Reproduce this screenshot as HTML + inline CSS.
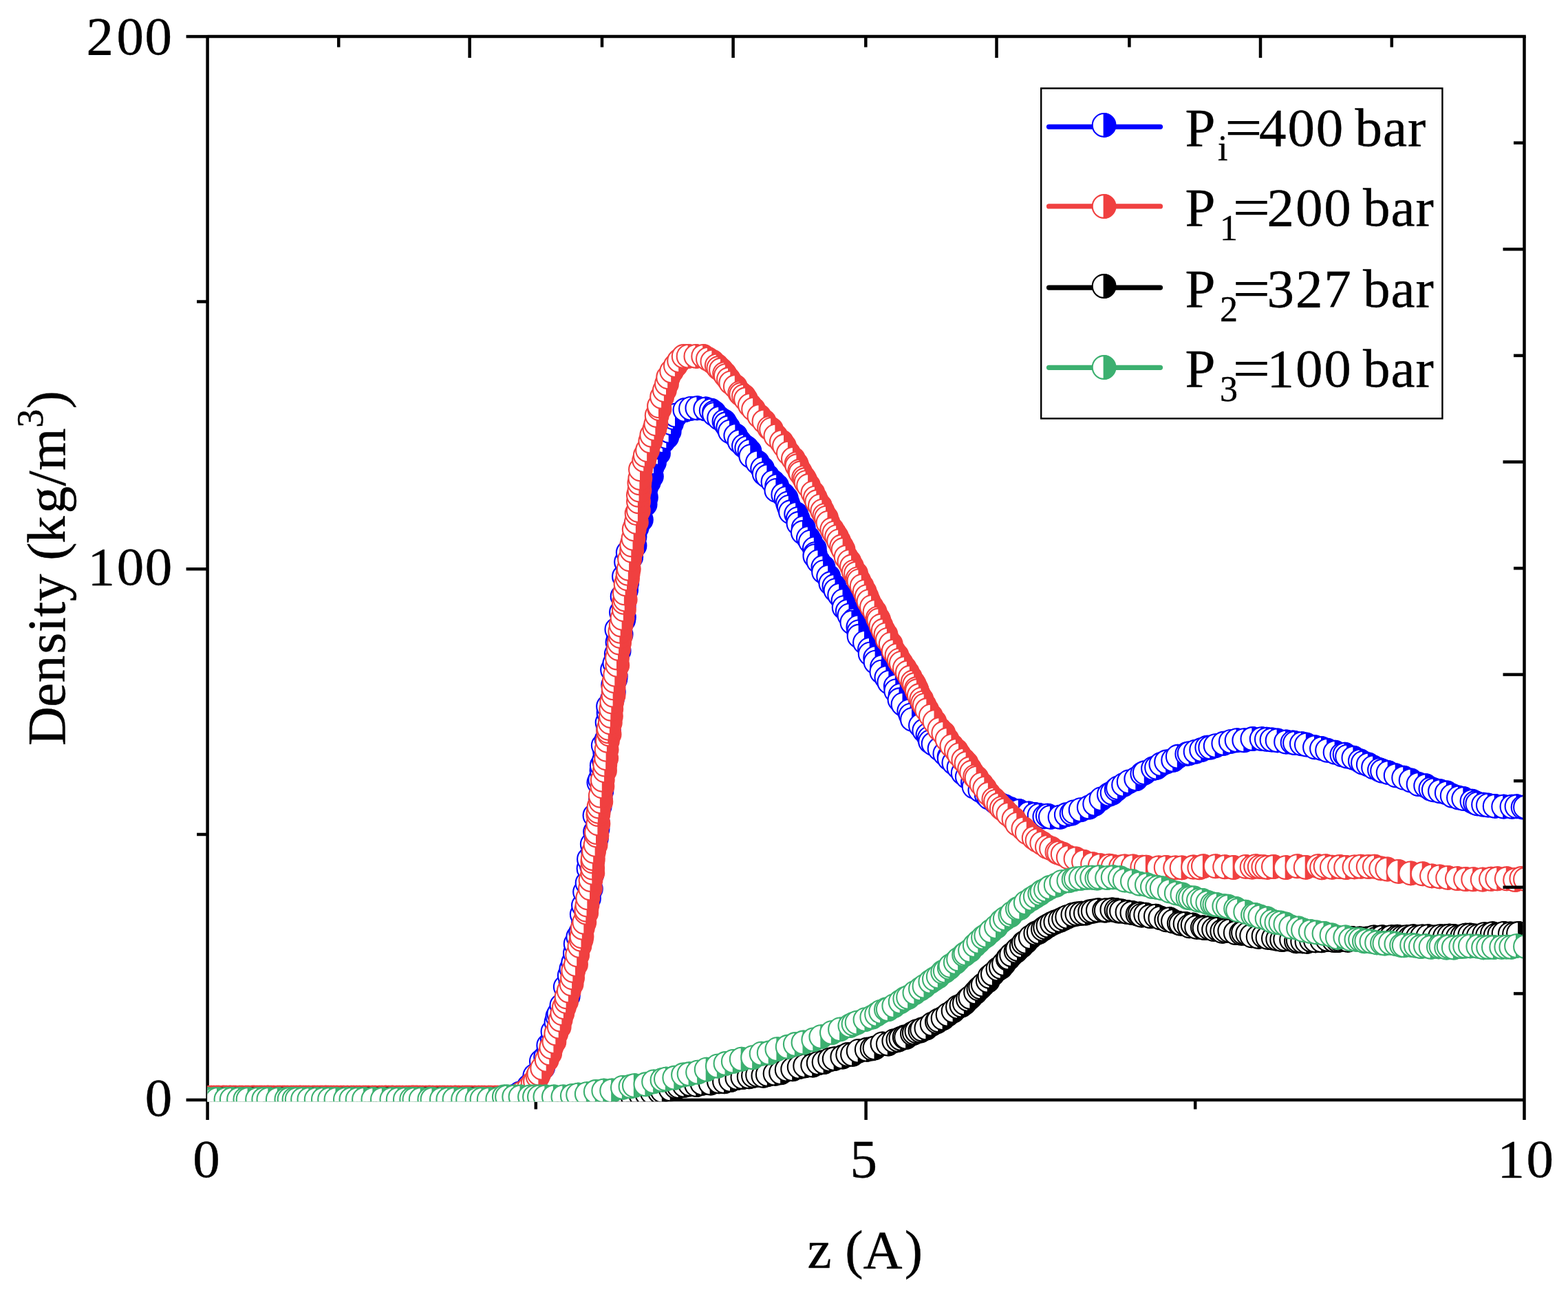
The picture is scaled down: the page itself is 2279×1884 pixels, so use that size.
<!DOCTYPE html>
<html lang="en"><head><meta charset="utf-8"><title>Density profile</title>
<style>html,body{margin:0;padding:0;background:#fff}body{width:2279px;height:1884px;overflow:hidden}svg{display:block}text{font-family:"Liberation Serif","DejaVu Serif",serif;fill:#000;stroke:#000;stroke-width:0.4px;stroke-linejoin:round}</style></head><body>
<svg width="2279" height="1884" viewBox="0 0 2279 1884">
<rect width="2279" height="1884" fill="#fff"/>
<defs>
<marker id="m-blue" markerUnits="userSpaceOnUse" markerWidth="40" markerHeight="40" refX="20" refY="20" viewBox="0 0 40 40" orient="0" overflow="visible"><circle cx="20" cy="20" r="16.9" fill="#fff" stroke="#0000ff" stroke-width="2.1"/><path d="M19,2 A18,18 0 1 1 19,38 Z" fill="#0000ff"/></marker>
<marker id="m-red" markerUnits="userSpaceOnUse" markerWidth="40" markerHeight="40" refX="20" refY="20" viewBox="0 0 40 40" orient="0" overflow="visible"><circle cx="20" cy="20" r="16.9" fill="#fff" stroke="#f04040" stroke-width="2.1"/><path d="M19,2 A18,18 0 1 1 19,38 Z" fill="#f04040"/></marker>
<marker id="m-black" markerUnits="userSpaceOnUse" markerWidth="40" markerHeight="40" refX="20" refY="20" viewBox="0 0 40 40" orient="0" overflow="visible"><circle cx="20" cy="20" r="16.9" fill="#fff" stroke="#000000" stroke-width="2.1"/><path d="M19,2 A18,18 0 1 1 19,38 Z" fill="#000000"/></marker>
<marker id="m-green" markerUnits="userSpaceOnUse" markerWidth="40" markerHeight="40" refX="20" refY="20" viewBox="0 0 40 40" orient="0" overflow="visible"><circle cx="20" cy="20" r="16.9" fill="#fff" stroke="#3cb070" stroke-width="2.1"/><path d="M19,2 A18,18 0 1 1 19,38 Z" fill="#3cb070"/></marker>
<clipPath id="plot"><rect x="301.6" y="53.1" width="1911.7" height="1548.2"/></clipPath>
</defs>
<g stroke="#000" stroke-width="4.5" fill="none" stroke-linecap="butt">
<line x1="301.6" y1="50.9" x2="301.6" y2="1628"/>
<line x1="301.6" y1="1599" x2="2215.5" y2="1599"/>
<line x1="270.6" y1="53.1" x2="301.6" y2="53.1"/>
<line x1="286.1" y1="438.5" x2="301.6" y2="438.5"/>
<line x1="270.6" y1="827.2" x2="301.6" y2="827.2"/>
<line x1="286.1" y1="1213" x2="301.6" y2="1213"/>
<line x1="270.6" y1="1599" x2="301.6" y2="1599"/>
<line x1="778.8" y1="1599" x2="778.8" y2="1612.5"/>
<line x1="1258.6" y1="1599" x2="1258.6" y2="1628"/>
<line x1="1737.2" y1="1599" x2="1737.2" y2="1612.5"/>
</g>
<g clip-path="url(#plot)">
<polyline points="301.5,1597 308.4,1597 315.1,1597 327.3,1597 336.3,1597 345.3,1597 354.2,1597 364.1,1597 368.2,1597 377.2,1597 383.9,1597 392.9,1597 406,1597 415,1597 419,1597 428,1597 434.7,1597 446.9,1597 459.9,1597 473,1597 482,1597 494.1,1597 502.3,1597 509.1,1597 518.1,1597 527.1,1597 537,1597 550,1597 558,1597 570.3,1597 577,1597 585.1,1597 597.3,1597 604,1597 613.9,1597 622.9,1597 631.9,1597 644.9,1597 657.1,1597 669.2,1597 678.2,1597 691.3,1597 704.3,1597 711.1,1597 717.9,1597 726,1597 734.9,1596.8 746.8,1593.9 755.6,1589.5 765.7,1584.7 769.1,1578.7 778.4,1570.6 777.3,1563.7 789.1,1552.1 786.9,1542.7 793.2,1536.4 797.8,1530.3 797.3,1519.7 802.8,1512.5 803.5,1499.8 811.4,1490.4 808.5,1486 810.4,1477.7 812.4,1473.8 816.4,1461.6 825.7,1448.2 826,1443.7 821.8,1434.6 829.5,1427.8 827.8,1417.9 830.4,1408.4 833.2,1399.5 835.9,1385.8 836.7,1372 840.3,1362 844.2,1355.1 847.9,1342.5 845.8,1329.1 848,1316.3 855.9,1306.1 850.1,1296.6 858.8,1292.2 853.6,1283.7 860.4,1271 855.5,1262.7 859.8,1258.3 856,1248.9 862.2,1238.5 862.8,1234.2 860.8,1227.2 866.9,1218.8 865.1,1209.3 868.5,1205.2 868.8,1195.5 864.5,1185.4 871.6,1172.5 872.8,1163.1 874.3,1150.3 870.4,1137.6 872.2,1133.4 876,1124 874.5,1119.8 874.8,1112.7 877.9,1105.7 879.2,1093 876.8,1083.6 881.7,1074.9 885.1,1064.5 884.2,1060.5 882.6,1050.2 884.6,1036.3 884.1,1026.9 889.8,1016.7 891.8,1006.1 891.2,995.8 894.3,987.4 894.8,983.2 890.1,973.7 893.4,964.3 895.8,950.6 899.6,946.3 897.5,933.6 899.1,926.4 902.6,922.2 896.4,915 906.2,901.4 906.9,897.1 903,890 906.7,880.6 904.6,867 910.1,857.8 911.2,847.3 907,838 912.7,824.2 910.1,817 917.2,810.1 912.8,803.3 922.5,793.2 919.5,789.4 922.5,780.3 925.7,766.8 924.3,762.6 931.9,755.6 928.1,746.2 937.6,733.2 938.9,722.9 938.9,709.6 942.9,700.8 946.9,692.6 945.3,688.7 947.7,679.2 951,672.2 957,658.9 955.7,649.8 963.9,641.2 969.3,635.3 972.7,626.9 976,615.4 979.1,607.2 982,603.7 995.5,596 1004,593.9 1013.4,593.2 1025.3,594.5 1033.7,596.7 1037.8,599.6 1038,602.1 1045.2,607.8 1052.5,612.4 1054.8,616.3 1058.3,621.5 1061,627.4 1069.3,633.1 1074.7,641.8 1081,648.1 1085.3,651.2 1089.5,655.9 1091.3,663.1 1101,672.3 1108.2,681.1 1110.7,688.6 1115.4,692.3 1123.5,700.4 1129.2,706.3 1128.4,712.9 1138.3,719 1142.7,724.1 1144.9,731.7 1146.8,736.9 1149,744.3 1157.2,747.2 1159.7,754.1 1160.5,761 1167.7,767.1 1166.9,774 1174.9,782.1 1178,787.6 1183.8,797.4 1184.7,805.2 1184.4,808.2 1189.5,816.1 1196.4,824.3 1197.1,831.4 1204.2,838.3 1207.4,848 1212.4,852 1214.5,858.1 1220.2,865 1225.5,873.1 1226.7,883.1 1231.8,888.5 1234.5,894.4 1241.3,901.4 1238.4,904.7 1247.4,911.4 1248.2,918.4 1248.6,924.8 1257,933.9 1264,943.8 1264.7,950.6 1272.2,956.4 1272.6,962.6 1282.1,969.2 1281.4,976.7 1288.4,985 1292.4,991.7 1301.8,997.5 1302.3,1004.4 1308.6,1010.6 1307.5,1017.3 1312.5,1023.9 1321.3,1033.6 1323.6,1039.6 1326,1045.9 1338,1054.7 1343.3,1062 1348.5,1068.1 1350.8,1073.2 1352.1,1078.1 1356.6,1081.3 1365.6,1088.5 1373.4,1095.7 1379.6,1100.4 1379.8,1102.7 1386.4,1109 1393.6,1115.8 1399.7,1123.7 1405.8,1129.2 1414,1137.2 1415.6,1143.6 1424.4,1148.7 1433.8,1155.7 1437.4,1159.6 1446.5,1165.6 1451.3,1168.2 1460.1,1172.2 1468.2,1175.9 1480.8,1179 1495.1,1182.4 1504,1184 1510.7,1185.1 1518.4,1187.2 1522.8,1185.7 1526.9,1187.8 1540.6,1187.7 1549.8,1184.3 1557.6,1182.6 1560.7,1180.4 1570.7,1177.2 1582.8,1173.5 1591.2,1168.8 1600.5,1161.4 1611.9,1154.9 1616.6,1152.8 1622.7,1147.5 1625,1145.4 1633.1,1140.9 1640.7,1136.4 1651.3,1132.3 1660.3,1124.9 1663.8,1123.3 1676,1117.1 1681.1,1115.8 1687.4,1111 1695.1,1107.5 1705.2,1104.9 1711.8,1099.8 1725.3,1095.9 1728.6,1095.1 1737.6,1092.7 1746.2,1090 1754.3,1086.8 1759.2,1086.5 1766.7,1084.1 1778.3,1080.8 1788.8,1077.9 1797.6,1076.2 1808.3,1076.2 1820.4,1074 1833.7,1074.1 1840.9,1074.8 1848.5,1075.5 1856.6,1076.4 1869.1,1078.5 1878.6,1079.4 1882,1080.1 1891.9,1081.2 1898.9,1082.6 1911,1086.3 1921,1088.1 1929.1,1090.8 1940.6,1093.8 1950.4,1097.3 1954.6,1096.8 1958.1,1099.6 1967.4,1101.8 1976.9,1106.3 1981,1108.9 1988.8,1111.5 1996.1,1115.4 2005,1119.1 2009.1,1120.8 2017.7,1123.1 2028.7,1127.3 2040.2,1130.8 2050.6,1134.5 2061.6,1140 2072.2,1142.3 2079.4,1146.8 2083.8,1148.3 2093,1150.3 2102.8,1152.5 2110.7,1156.7 2120,1159.6 2127.3,1161.1 2139.5,1164.8 2144.1,1167 2147.3,1168.4 2156.1,1169.8 2162.9,1170.6 2172.7,1171.9 2185.2,1172.6 2197.5,1172.7 2204.5,1172.3 2213.6,1173.6 2217,1173.4" fill="none" stroke="#0000ff" stroke-width="6" stroke-linejoin="round" marker-start="url(#m-blue)" marker-mid="url(#m-blue)" marker-end="url(#m-blue)"/>
<polyline points="301.5,1595.8 306.9,1595.8 310.6,1595.8 315,1595.8 318,1595.8 323.7,1595.8 325.6,1595.8 329.1,1595.8 333.6,1595.8 335.3,1595.8 339.3,1595.8 342.3,1595.8 348.2,1595.8 351.8,1595.8 357.2,1595.8 360.7,1595.8 366.1,1595.8 368.1,1595.8 369.8,1595.8 373.5,1595.8 377.4,1595.8 380.4,1595.8 384.4,1595.8 388.4,1595.8 390.1,1595.8 393.8,1595.8 397.8,1595.8 403.6,1595.8 407.1,1595.8 410.8,1595.8 413.8,1595.8 417.8,1595.8 423.2,1595.8 426.8,1595.8 430.8,1595.8 435.2,1595.8 437,1595.8 441,1595.8 444.6,1595.8 448.6,1595.8 454.5,1595.8 457.3,1595.8 461.4,1595.8 465.4,1595.8 468.4,1595.8 472.4,1595.8 474.1,1595.8 477.2,1595.8 481.1,1595.8 485.1,1595.8 489.6,1595.8 495.4,1595.8 499.4,1595.8 505.1,1595.8 510.5,1595.8 514.2,1595.8 518.1,1595.8 522.6,1595.8 528,1595.8 531.6,1595.8 535.6,1595.8 541.3,1595.8 545.3,1595.8 551.2,1595.8 555.2,1595.8 559.6,1595.8 561.3,1595.8 565,1595.8 569.4,1595.8 571.2,1595.8 576.6,1595.8 580.6,1595.8 585,1595.8 590.4,1595.8 594.4,1595.8 598,1595.8 599.8,1595.8 601.5,1595.8 604.5,1595.8 606.5,1595.8 610.4,1595.8 614.4,1595.8 618.8,1595.8 623.1,1595.8 625,1595.8 629,1595.8 634.7,1595.8 638.9,1595.8 643.1,1595.8 646.2,1595.8 650.6,1595.8 655.1,1595.8 660.8,1595.8 662.5,1595.8 666.7,1595.8 672.1,1595.8 676,1595.8 679,1595.8 682.1,1595.8 685.6,1595.8 690,1595.8 695.7,1595.8 700.2,1595.8 704.1,1595.8 710,1595.8 713.5,1595.8 719.4,1595.8 723.4,1595.8 727.3,1595.8 733.2,1595.8 738.6,1595.7 745.6,1594.9 758.4,1589.4 768.6,1582.2 774.6,1574.9 778,1571.9 781.6,1564.8 783.4,1560.7 788.2,1552.9 794.7,1541 799.2,1531.5 801.3,1522.4 805.4,1514.3 808.3,1502.5 812.7,1492.7 814.7,1482.6 817.3,1473.2 819.9,1464.3 823.1,1456 823.6,1449.2 826.8,1440.5 830.6,1430.6 832.1,1421.4 833.3,1411 837,1402.1 839.2,1388.3 842.4,1375 844.7,1365.9 845.5,1361.4 846.8,1348.9 849.3,1340.7 852.2,1326.9 852.3,1322.7 853.5,1315.6 854.3,1305.4 858,1291.6 858.5,1279.1 861.3,1268.9 861.2,1261.6 861.4,1252.2 861.8,1248 863.1,1237.8 865.6,1228.1 867.4,1214.6 867,1210.1 869.4,1197.4 869.3,1184 869.8,1179.8 870.6,1172.5 873.3,1165.4 872.8,1156.8 875.4,1143.3 875.8,1133.8 879,1120.3 879.3,1111.6 881.2,1102.3 881.6,1089.8 882.9,1076.9 885.6,1067.5 884.2,1063.3 884.7,1058.9 886.8,1050.4 887.9,1041 888.3,1030.7 889.3,1020.3 891.6,1010.7 891.6,1000.3 892.8,990.1 894.3,980.8 897.3,966.9 897,956.5 899,943 900.1,934.5 901.7,925 901.3,917.9 902.7,908.5 904.6,898.8 906.9,886.2 906.9,875.9 908.7,871.6 907.9,862.3 909.6,849.3 912,841.2 912.7,833.8 913.8,826.9 915.1,813.3 918.2,800.5 918.3,792.2 920.5,782.9 921.7,769.3 924.9,759 925.6,746.2 927.9,742.1 928,729.2 927.9,719.7 929.5,712.6 929.4,702.2 930.4,695.1 931,682.4 936.2,669.1 937.8,661.9 941.1,654.4 945.3,641.6 947.3,632.7 951.5,623.3 953.4,616.3 954.7,604 958.5,594.4 958,590.3 962.1,577 965.9,567.3 969,558 971.2,548.4 976.2,539.6 981.9,531.4 987.1,524.4 993.7,518 1000.6,517.9 1011.4,517.9 1022.2,518 1028.9,521.9 1035.4,525.7 1041.8,531.5 1044.4,535 1048,537.5 1053.1,543.3 1054.8,546.1 1059,551.3 1062.3,556.4 1068.8,562 1075.3,571.2 1077.2,573.3 1081,575.8 1084,580.3 1089.9,589.1 1095.1,594.9 1103.5,605 1110.5,612.5 1118.1,622.2 1121.1,624.1 1127.4,633.7 1135.9,642.3 1140,648.3 1145.9,658.6 1152.9,666.9 1157.5,674.2 1158.4,677.3 1162.2,684.8 1163.6,687.5 1168.2,694.1 1170,697.3 1171.6,701.2 1175.1,706 1181.4,716.4 1184.9,723.6 1187.3,729.3 1191.9,735.4 1195.3,742.7 1198.5,749.2 1201,752.6 1203.5,759.9 1209.3,769.5 1212.5,774.7 1216.1,780.1 1219.1,786.4 1223.2,794.3 1225.6,799 1229.7,809.8 1234.4,816.2 1238,823.3 1240.8,831.1 1244.1,833.8 1246.6,841.4 1248.4,844.4 1252.7,851.9 1256.7,859.9 1259.7,867.2 1262.5,874.2 1267,882.2 1271.6,889.2 1275.8,898.5 1277.3,901.3 1280.5,909.5 1283.7,916.5 1287.5,922.4 1289.9,929.9 1294.7,936.1 1298.7,946.5 1303.5,952.7 1306.8,959.7 1309.8,963.9 1314.9,971.3 1318.8,977.5 1322.8,984.5 1326.7,991.5 1329.1,995.3 1331.9,1001.3 1332.9,1004.3 1335.8,1011 1339.3,1016.4 1341.2,1021.7 1343.7,1025.2 1347.3,1032 1352.9,1040.6 1358.5,1049.2 1365.4,1060 1371.3,1065.8 1376.6,1075 1383.4,1084.1 1389.9,1091 1394,1097.1 1400.3,1104.8 1404.6,1109.5 1409.2,1117.3 1412.2,1122.5 1417.2,1128.7 1419.6,1130.8 1426.6,1139.9 1431.3,1145.9 1436.9,1154 1444.4,1161.7 1447.1,1164.9 1451.5,1169.8 1455.8,1174.9 1459.6,1177.5 1465.5,1183.8 1473.5,1190.8 1478.3,1197.9 1487.4,1204.7 1492.8,1210.4 1502.7,1218.1 1507.6,1221.6 1514.3,1225.6 1521.9,1231.1 1528,1233.5 1536.4,1238.8 1539.1,1239.8 1544.7,1241.7 1552.8,1246.2 1563.5,1248.4 1575,1252.7 1588.1,1256.2 1598.9,1258.2 1612.3,1258.7 1617.8,1259.7 1628.9,1260.5 1634.5,1259.4 1646.7,1259.4 1660.3,1260.8 1665.8,1260.7 1683.8,1261.4 1694.7,1260.9 1708.2,1261.4 1717.6,1261.4 1734.1,1260.5 1743.3,1261.2 1748.9,1259.3 1766.7,1259.2 1780.2,1260.2 1792.6,1261 1810.4,1259.9 1819.6,1260.6 1825.1,1259.2 1830.7,1260.1 1836.3,1260.2 1841.7,1260.9 1850.9,1260 1868.7,1261.1 1885.5,1259.2 1897.7,1260.9 1915.5,1259.1 1921.1,1261.3 1926.6,1259.2 1935.9,1260.7 1947,1260 1956.2,1261 1968.5,1260.4 1977.7,1259.7 1988.7,1260 1997.9,1259.7 2007.2,1262.4 2016.2,1263.5 2032.4,1266.9 2050.3,1269.4 2067.7,1270.3 2081,1273.4 2092.3,1274.4 2104.2,1275.9 2117.9,1277.1 2130.1,1278 2141.2,1278.2 2154.7,1278.6 2167,1277.8 2176.2,1277.3 2189.8,1277.3 2202.1,1279 2211.3,1277 2217,1278" fill="none" stroke="#f04040" stroke-width="6" stroke-linejoin="round" marker-start="url(#m-red)" marker-mid="url(#m-red)" marker-end="url(#m-red)"/>
<polyline points="301.5,1598.4 314.6,1598.4 323.6,1598.4 332.6,1598.4 341.6,1598.4 353.7,1598.4 366.8,1598.4 374.9,1598.4 383,1598.4 392,1598.4 401,1598.4 409.1,1598.4 417.2,1598.4 430.3,1598.4 442.4,1598.4 454.5,1598.4 463.5,1598.4 472.6,1598.4 479.3,1598.4 489.2,1598.4 498.2,1598.4 507.2,1598.4 514,1598.4 523,1598.4 527,1598.4 531,1598.4 535.1,1598.4 547.2,1598.4 555.4,1598.4 559.4,1598.4 563.5,1598.4 576.5,1598.4 588.7,1598.4 595.4,1598.4 607.6,1598.4 616.6,1598.4 620.6,1598.4 627.4,1598.4 636.4,1598.4 646.2,1598.4 655.2,1598.4 662,1598.4 671,1598.4 683.1,1598.4 687.2,1598.4 697.1,1598.4 710.2,1598.4 719.1,1598.4 727.2,1598.4 734,1598.4 747.1,1598.4 756.9,1598.4 766,1598.4 770,1598.4 776.8,1598.4 785.7,1598.4 793.8,1598.4 802,1598.4 808.7,1598.4 815.4,1598.4 827.6,1598.4 836.6,1598.4 848.8,1598.4 858.7,1598.4 870.8,1598.4 880.7,1598.4 888.8,1598.1 896.9,1597.4 904.9,1596.4 911.1,1595.4 919.4,1593.9 931.4,1591.5 940.6,1590.4 948,1588.4 958.8,1587.2 962.8,1585.7 974.7,1583.6 982.7,1580 986.7,1579.4 994.7,1577.8 1003.2,1576.4 1012.2,1577.1 1020.5,1574.9 1032.6,1574.6 1044.9,1572.3 1053,1572.2 1062,1570 1071.4,1567.1 1079.4,1566 1088.7,1565.3 1095,1563.8 1101.1,1562.8 1109.4,1563.7 1115.8,1562 1126.6,1560.7 1135.1,1559.2 1143.7,1554.9 1152.2,1554.2 1161.7,1551.1 1170.2,1549.4 1181.2,1548.5 1189.7,1545.3 1197.6,1544 1206.2,1540.4 1212.7,1539.1 1224.3,1536.5 1232.2,1533 1239,1532.7 1247.7,1527.9 1259.8,1525.8 1267.6,1524.4 1271.5,1523.4 1282.4,1517.4 1290.8,1517.6 1299.3,1513.2 1305.4,1511.8 1309.4,1509.8 1314.7,1507.5 1317.1,1507.9 1325.9,1502.6 1328.8,1501.4 1332.4,1499.2 1337.5,1498.6 1340.2,1496.5 1346.4,1494.5 1354.6,1488.8 1361.9,1485.2 1364.2,1483.3 1370.6,1480.3 1377.6,1474.9 1385.6,1469.6 1392,1463.9 1397.5,1461.6 1401.9,1458.4 1407,1452.8 1410.4,1449.9 1418.1,1442.5 1422.4,1437.6 1425.2,1435.2 1428.8,1431.6 1435.8,1425.7 1438.5,1419.8 1442.9,1416.1 1450.5,1408.7 1454.9,1406 1459.1,1401 1464.8,1393.8 1466.2,1392.5 1470.1,1388 1476.6,1382.8 1479,1380 1484.8,1375.4 1487.8,1370.9 1491.3,1369 1497.8,1362.2 1505.3,1356.7 1509.8,1355 1515.9,1350.8 1519.2,1348.3 1523.5,1345.7 1529.1,1342.5 1534.3,1340.3 1540.9,1337.8 1546.1,1335.2 1551.2,1332.9 1559.4,1329.7 1565.4,1328.5 1571.9,1327.8 1577.9,1327.6 1584.2,1325.2 1588.8,1324.5 1595.9,1323.3 1605,1323.6 1607.8,1323.4 1616.3,1322.5 1622.5,1323.1 1625.5,1324.5 1630,1324.5 1638.5,1326 1645.4,1327 1653.6,1328.9 1656.4,1328.5 1659,1330.6 1665.2,1329.7 1671.6,1332 1679.9,1331.7 1686.4,1334.4 1695.3,1337.2 1699.8,1336.1 1705,1339.2 1713.8,1342.1 1716.5,1342.9 1722.6,1342.9 1728.8,1346.2 1733.7,1344.6 1739.2,1347.9 1747.9,1348.2 1750.6,1349 1757.7,1349 1764.1,1351.1 1770.1,1350.7 1776.3,1353.8 1781.1,1352.9 1787.3,1353.1 1795.7,1356 1804.2,1356.8 1807,1355.8 1813.3,1357.4 1819.2,1360.3 1828.7,1361.8 1836.6,1360.8 1842.5,1362.9 1850.9,1363.9 1857.2,1365.1 1863.2,1366 1868.2,1365.2 1877.1,1365.9 1884,1368.3 1886.8,1367.3 1893.2,1368.4 1899.5,1368.9 1905.8,1366.7 1912,1367.4 1921.2,1367.2 1929.6,1365.9 1938.9,1367 1944.5,1367 1947.4,1365.9 1953,1365.2 1958.8,1366.7 1964.9,1364 1970.6,1365.4 1976.2,1364.5 1985.5,1364.6 1988.2,1364.9 1993.9,1363.5 1996.7,1362.4 1999.6,1364.9 2008.7,1362.3 2015.1,1364.6 2022,1362.1 2028.2,1364.2 2031.1,1361.8 2033.8,1362.7 2038.6,1362.8 2044.2,1362.1 2049.1,1363.4 2053.8,1361.3 2060.7,1362.3 2067,1361.4 2075.4,1361.2 2084.5,1362.4 2093.1,1361.2 2100.1,1361.3 2106.3,1360.6 2112.6,1361 2118.9,1362.2 2125.3,1361.2 2129.9,1359.6 2136.3,1359.5 2142.6,1360.4 2148.8,1360.6 2157.3,1358.2 2162.1,1359.9 2169,1357.3 2173.7,1359.6 2179.4,1358.5 2185.6,1356.9 2194.8,1357.5 2201.1,1357.8 2207,1357" fill="none" stroke="#000000" stroke-width="6" stroke-linejoin="round" marker-start="url(#m-black)" marker-mid="url(#m-black)" marker-end="url(#m-black)"/>
<polyline points="301.5,1598 311.7,1598 316,1598 328.5,1598 336.8,1598 347.1,1598 356.4,1598 360.6,1598 374.1,1598 383.3,1598 390.4,1598 403.8,1598 416.4,1598 420.6,1598 427.5,1598 431.7,1598 440.1,1598 449.4,1598 459.7,1598 469.9,1598 479.1,1598 488.5,1598 501.9,1598 510.4,1598 519.6,1598 529,1598 542.4,1598 555.9,1598 569.4,1598 578.7,1598 588.9,1598 598.2,1598 602.4,1598 611.7,1598 624.3,1598 628.5,1598 641.9,1598 651.3,1598 660.5,1598 673.1,1598 680.1,1598 693.5,1598 700.5,1598 710.7,1598 723.3,1597.8 732.8,1594.5 737,1594.5 747.2,1594.5 756.5,1594.5 770,1594.5 777,1594.5 783.9,1594.5 792.4,1594.5 804.9,1594.5 818.4,1594.4 831.8,1593 840.1,1591.6 852.8,1590.2 865.8,1587 877.3,1585.6 889.2,1585.5 904.9,1580.9 916.5,1579.4 921.9,1578.1 938.4,1576.3 950.1,1572.4 962.5,1569.9 967.9,1568.6 980.3,1566.8 993,1562.5 1001.6,1561.3 1014.1,1558.7 1026.7,1554.7 1042.9,1549.7 1054.5,1546 1065.8,1542.9 1077.7,1539.7 1094.1,1537.2 1106.6,1531.7 1117.7,1530.5 1129.4,1525.2 1144.7,1521.8 1155.8,1518 1167.5,1515.5 1182.3,1511.4 1193.3,1507.1 1208.9,1501.1 1221,1496.4 1235.4,1491.1 1240.5,1488.6 1245.6,1486.6 1257.5,1482.1 1267.3,1478.7 1274.1,1474.7 1280.1,1470.7 1287.9,1467.4 1290.8,1467.2 1299.3,1462.2 1308.7,1456.3 1315.3,1451.8 1320.1,1449.8 1329.4,1443.2 1338,1437.5 1343.5,1433.7 1352.3,1427 1357.9,1423.2 1363.8,1419.6 1370.2,1413.3 1373.8,1411.6 1379.8,1406.9 1381.5,1404 1388.8,1399 1393.1,1394.5 1401.1,1388 1403.4,1386.3 1410,1381.6 1416.8,1374.2 1422.3,1369 1429,1362.7 1433.3,1360 1440.4,1353.5 1448,1347.2 1455.6,1339.1 1460.8,1335.3 1468.4,1330.8 1470.9,1327.6 1478.9,1321.1 1482.3,1320 1490.8,1312.2 1499.1,1306.7 1504.8,1303.2 1511.3,1299.2 1514.5,1296.3 1520,1293.6 1525.8,1290 1534.7,1286.7 1542.8,1282.2 1553.4,1280.2 1560.6,1278.3 1563.9,1277.4 1570.9,1276.9 1579.6,1275.7 1587.2,1275.7 1594.3,1276.6 1597.8,1275.2 1609.1,1276.1 1617.7,1275.3 1627.9,1276.3 1634.8,1279.5 1645.9,1281.2 1656.3,1284.7 1666.9,1286.1 1674.9,1289.1 1682.5,1290.1 1688.7,1291.3 1699.8,1295.4 1709.8,1298.4 1718.4,1300.4 1726.6,1304.9 1730,1305.3 1735.4,1305.4 1741.9,1308.6 1747.7,1308.9 1755.3,1312 1762,1314.3 1765.4,1314.9 1768.8,1315.1 1779.3,1317.3 1784.9,1317.8 1796.1,1321 1799.1,1323.1 1810.2,1325.7 1821,1330.1 1824.6,1330.1 1831.4,1332.5 1841.6,1335.3 1848.7,1339.1 1855.4,1341 1861.4,1341.6 1868.4,1343.5 1876.2,1347.5 1887.1,1349.4 1894,1352.1 1904.8,1354.1 1913.2,1355.4 1924.5,1357 1935.5,1359.5 1943.9,1362.7 1955.3,1362.4 1963,1365.4 1971.4,1365.8 1977.1,1366.1 1982.9,1368.3 1986.3,1367.8 1993.4,1368.8 2001.1,1370.4 2009,1371.1 2012.4,1371.5 2020.9,1370.7 2029.4,1372.2 2037.1,1374.2 2040.7,1374.3 2052.1,1374 2057.8,1374.7 2064.9,1376 2071.9,1375.2 2079.6,1376.8 2090.9,1376.4 2094.5,1375.7 2102.2,1377.6 2105.7,1376 2112.8,1377.5 2123.3,1376 2129.2,1375.5 2136.9,1375.4 2148.3,1375.7 2156.1,1377.4 2163.1,1377 2170.9,1377 2182.2,1376.9 2189.3,1376.6 2196.3,1376.9 2204,1375.1 2217,1376" fill="none" stroke="#3cb070" stroke-width="6" stroke-linejoin="round" marker-start="url(#m-green)" marker-mid="url(#m-green)" marker-end="url(#m-green)"/>
</g>
<g stroke="#000" stroke-width="4.5" fill="none" stroke-linecap="butt">
<line x1="301.6" y1="53.1" x2="2217.8" y2="53.1"/>
<line x1="2215.5" y1="53.1" x2="2215.5" y2="1628"/>
<line x1="492.2" y1="53.1" x2="492.2" y2="68.6"/>
<line x1="2200" y1="207.7" x2="2215.5" y2="207.7"/>
<line x1="682.6" y1="53.1" x2="682.6" y2="84.1"/>
<line x1="2184.5" y1="362.3" x2="2215.5" y2="362.3"/>
<line x1="875" y1="53.1" x2="875" y2="68.6"/>
<line x1="2200" y1="516.9" x2="2215.5" y2="516.9"/>
<line x1="1065.6" y1="53.1" x2="1065.6" y2="84.1"/>
<line x1="2184.5" y1="671.5" x2="2215.5" y2="671.5"/>
<line x1="1258.3" y1="53.1" x2="1258.3" y2="68.6"/>
<line x1="2200" y1="826.1" x2="2215.5" y2="826.1"/>
<line x1="1448.5" y1="53.1" x2="1448.5" y2="84.1"/>
<line x1="2184.5" y1="980.6" x2="2215.5" y2="980.6"/>
<line x1="1641.4" y1="53.1" x2="1641.4" y2="68.6"/>
<line x1="2200" y1="1135.2" x2="2215.5" y2="1135.2"/>
<line x1="1832" y1="53.1" x2="1832" y2="84.1"/>
<line x1="2184.5" y1="1289.8" x2="2215.5" y2="1289.8"/>
<line x1="2022.8" y1="53.1" x2="2022.8" y2="68.6"/>
<line x1="2200" y1="1444.4" x2="2215.5" y2="1444.4"/>
</g>
<text x="125.6 169.6 210.6" y="78.9" font-size="79">200</text>
<text x="127.6 169.8 210.8" y="850.4" font-size="79">100</text>
<text x="210.7" y="1622.4" font-size="79" letter-spacing="1.9" text-anchor="start">0</text>
<text x="280.2" y="1710.8" font-size="79" letter-spacing="1.9" text-anchor="start">0</text>
<text x="1235.5" y="1710.8" font-size="79" letter-spacing="1.9" text-anchor="start">5</text>
<text x="2176.6" y="1710.8" font-size="79" letter-spacing="2.4" text-anchor="start">10</text>
<text x="1173.5" y="1843.2" font-size="79">z (A<tspan dx="3">)</tspan></text>
<text transform="translate(94.4,1084) rotate(-90)" font-size="79" letter-spacing="0.6" dx="0 -1.5 0 1.5 0 0 0 0 -1 -2 3 0 0">Density (kg/m<tspan font-size="54" dy="-32">3</tspan><tspan dy="32">)</tspan></text>
<rect x="1513.2" y="128.4" width="583.2" height="480" fill="#fff" stroke="#000" stroke-width="2.4"/>
<line x1="1524.5" y1="184.3" x2="1686.5" y2="184.3" stroke="#0000ff" stroke-width="7.2" stroke-linecap="round"/>
<circle cx="1604.6" cy="181.9" r="16.9" fill="#fff" stroke="#0000ff" stroke-width="2.1"/><path d="M1603.6,163.9 A18,18 0 1 1 1603.6,199.9 Z" fill="#0000ff"/>
<text x="1722.6" y="211.9" font-size="79">P</text>
<text x="1770" y="233.4" font-size="52">i</text>
<text transform="translate(1780.3,211.9) scale(1.22,1)" font-size="79">=</text>
<text x="1830" y="211.9" font-size="79" letter-spacing="1.9">400</text>
<text x="1969.5" y="211.9" font-size="79" letter-spacing="1">bar</text>
<line x1="1524.5" y1="299.9" x2="1686.5" y2="299.9" stroke="#f04040" stroke-width="7.2" stroke-linecap="round"/>
<circle cx="1604.6" cy="300" r="16.9" fill="#fff" stroke="#f04040" stroke-width="2.1"/><path d="M1603.6,282 A18,18 0 1 1 1603.6,318 Z" fill="#f04040"/>
<text x="1722.6" y="327.5" font-size="79">P</text>
<text x="1773" y="349" font-size="52">1</text>
<text transform="translate(1791.8,327.5) scale(1.22,1)" font-size="79">=</text>
<text x="1841.5" y="327.5" font-size="79" letter-spacing="1.9">200</text>
<text x="1981" y="327.5" font-size="79" letter-spacing="1">bar</text>
<line x1="1524.5" y1="418.1" x2="1686.5" y2="418.1" stroke="#000000" stroke-width="7.2" stroke-linecap="round"/>
<circle cx="1604.6" cy="416" r="16.9" fill="#fff" stroke="#000000" stroke-width="2.1"/><path d="M1603.6,398 A18,18 0 1 1 1603.6,434 Z" fill="#000000"/>
<text x="1722.6" y="445.7" font-size="79">P</text>
<text x="1773" y="467.2" font-size="52">2</text>
<text transform="translate(1791.8,445.7) scale(1.22,1)" font-size="79">=</text>
<text x="1841.5" y="445.7" font-size="79" letter-spacing="1.9">327</text>
<text x="1981" y="445.7" font-size="79" letter-spacing="1">bar</text>
<line x1="1524.5" y1="534.3" x2="1686.5" y2="534.3" stroke="#3cb070" stroke-width="7.2" stroke-linecap="round"/>
<circle cx="1604.6" cy="534" r="16.9" fill="#fff" stroke="#3cb070" stroke-width="2.1"/><path d="M1603.6,516 A18,18 0 1 1 1603.6,552 Z" fill="#3cb070"/>
<text x="1722.6" y="561.9" font-size="79">P</text>
<text x="1773" y="583.4" font-size="52">3</text>
<text transform="translate(1791.8,561.9) scale(1.22,1)" font-size="79">=</text>
<text x="1841.5" y="561.9" font-size="79" letter-spacing="1.9">100</text>
<text x="1981" y="561.9" font-size="79" letter-spacing="1">bar</text>
</svg></body></html>
